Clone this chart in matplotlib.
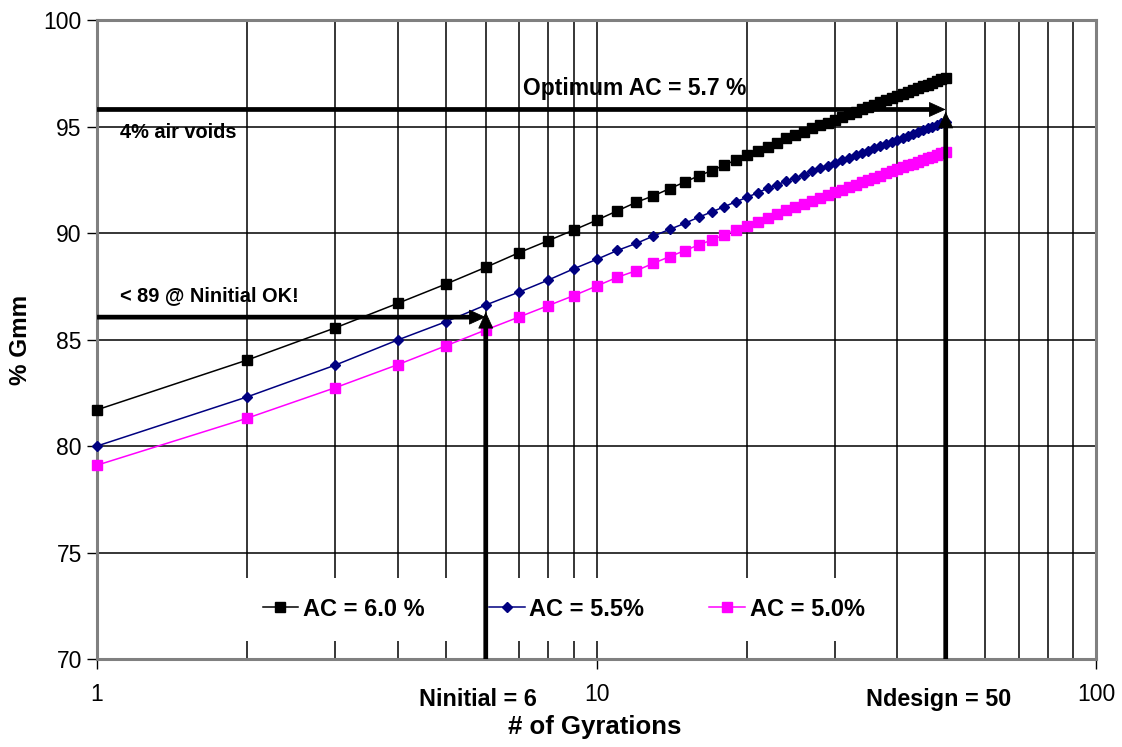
import matplotlib
matplotlib.use("Agg")
import matplotlib.pyplot as plt
from matplotlib.ticker import FixedLocator, FixedFormatter, NullFormatter

plt.rcParams['font.family'] = ['Liberation Sans', 'DejaVu Sans']

# Gyratory compaction data (% Gmm vs. number of gyrations)
gyrations = list(range(1, 51))

ac_60 = [81.70, 84.04, 85.55, 86.70, 87.61, 88.39, 89.08, 89.64, 90.14, 90.60,
         91.04, 91.44, 91.75, 92.08, 92.39, 92.68, 92.93, 93.18, 93.43, 93.66,
         93.85, 94.05, 94.24, 94.45, 94.61, 94.76, 94.91, 95.05, 95.18, 95.32,
         95.44, 95.57, 95.69, 95.80, 95.91, 96.02, 96.13, 96.23, 96.33, 96.43,
         96.53, 96.62, 96.71, 96.80, 96.89, 96.97, 97.06, 97.14, 97.22, 97.30]

ac_55 = [80.00, 82.31, 83.80, 84.98, 85.84, 86.62, 87.23, 87.79, 88.32, 88.76,
         89.18, 89.51, 89.86, 90.17, 90.45, 90.74, 90.99, 91.23, 91.47, 91.67,
         91.89, 92.10, 92.27, 92.44, 92.60, 92.74, 92.89, 93.03, 93.16, 93.29,
         93.41, 93.53, 93.65, 93.76, 93.87, 93.98, 94.09, 94.19, 94.29, 94.38,
         94.48, 94.57, 94.66, 94.74, 94.83, 94.91, 94.99, 95.07, 95.15, 95.23]

ac_50 = [79.10, 81.31, 82.74, 83.82, 84.71, 85.45, 86.06, 86.59, 87.06, 87.51,
         87.92, 88.23, 88.58, 88.89, 89.17, 89.44, 89.67, 89.91, 90.14, 90.33,
         90.53, 90.72, 90.89, 91.08, 91.23, 91.38, 91.52, 91.66, 91.79, 91.91,
         92.04, 92.15, 92.27, 92.38, 92.49, 92.59, 92.70, 92.80, 92.89, 92.99,
         93.08, 93.17, 93.26, 93.34, 93.43, 93.51, 93.59, 93.67, 93.75, 93.82]

series_labels = ['AC = 6.0 %', 'AC = 5.5%', 'AC = 5.0%']

x_ticks = [1, 10, 100]
x_tick_labels = ['1', '10', '100']
y_ticks = [70, 75, 80, 85, 90, 95, 100]

n_initial = 6
n_design = 50
level_design = 95.8      # 4 % air voids reference line
tip_design = 95.7
level_initial = 86.05    # Ninitial check line
tip_initial = 86.3

fig = plt.figure(figsize=(11.22, 7.47), dpi=100)
ax = fig.add_axes([0.0865, 0.1178, 0.8904, 0.8554])
ax.set_xscale('log')
ax.set_xlim(1, 100)
ax.set_ylim(70, 100)

# grid
ax.set_axisbelow(True)
ax.grid(which='both', axis='x', color='black', lw=1.1)
ax.grid(which='major', axis='y', color='black', lw=1.1)

# series
ax.plot(gyrations, ac_60, color='black', lw=1.1, marker='s', ms=6.5,
        label=series_labels[0], zorder=3, clip_on=False)
ax.plot(gyrations, ac_55, color='#000080', lw=1.1, marker='D', ms=5.0,
        label=series_labels[1], zorder=3, clip_on=False)
ax.plot(gyrations, ac_50, color='#FF00FF', lw=1.1, marker='s', ms=6.5,
        label=series_labels[2], zorder=3, clip_on=False)

# axes styling
for sp in ax.spines.values():
    sp.set_color('#808080')
    sp.set_linewidth(2.2)

ax.xaxis.set_major_locator(FixedLocator(x_ticks))
ax.xaxis.set_major_formatter(FixedFormatter(x_tick_labels))
ax.xaxis.set_minor_formatter(NullFormatter())
ax.set_yticks(y_ticks)
ax.tick_params(axis='both', which='major', direction='out', length=7,
               width=1, color='black', labelsize=16.5)
ax.tick_params(axis='x', which='major', pad=10)
ax.tick_params(axis='y', which='major', pad=4)
ax.tick_params(axis='x', which='minor', length=0)

ax.set_xlabel('# of Gyrations', fontsize=18.5, fontweight='bold', va='center')
ax.xaxis.set_label_coords(0.498, -0.106)
ax.set_ylabel('% Gmm', fontsize=17.5, fontweight='bold', va='center')
ax.yaxis.set_label_coords(-0.077, 0.5)

# legend
leg = ax.legend(loc='center', bbox_to_anchor=(0.467, 0.078), ncol=3,
                frameon=True, fancybox=False, edgecolor='none',
                facecolor='white', framealpha=1,
                prop={'weight': 'bold', 'size': 17},
                handlelength=1.5, handletextpad=0.2, columnspacing=2.75,
                borderpad=0.85)
leg.set_zorder(5)


def draw_arrow(start, tip, direction):
    """Thick shaft plus a sharp filled head ending at `tip`."""
    ax.annotate('', xy=tip, xytext=start,
                arrowprops=dict(arrowstyle='-', lw=3.4, color='black',
                                shrinkA=0, shrinkB=9, capstyle='butt'),
                zorder=6, annotation_clip=False)
    offset = (-11, 0) if direction == 'right' else (0, -11)
    ax.annotate('', xy=tip, xytext=offset, textcoords='offset points',
                arrowprops=dict(arrowstyle='-|>,head_length=1.1,head_width=0.5',
                                mutation_scale=10, lw=0.6, color='black',
                                shrinkA=0, shrinkB=0),
                zorder=6, annotation_clip=False)


draw_arrow((1.0, level_design), (n_design, level_design), 'right')
draw_arrow((n_design, 70), (n_design, tip_design), 'up')
draw_arrow((1.0, level_initial), (n_initial, level_initial), 'right')
draw_arrow((n_initial, 70), (n_initial, tip_initial), 'up')

# annotation text
ax.text(7.14, 96.8, 'Optimum AC = 5.7 %', fontsize=16.5, fontweight='bold',
        ha='left', va='center', zorder=8)
ax.text(1.112, 94.74, '4% air voids', fontsize=14.4, fontweight='bold',
        ha='left', va='center', zorder=8)
ax.text(1.112, 87.04, '< 89 @ Ninitial OK!', fontsize=14.4, fontweight='bold',
        ha='left', va='center', zorder=8)

xt = ax.get_xaxis_transform()
ax.text(5.8, -0.064, 'Ninitial = 6', transform=xt, fontsize=16.8,
        fontweight='bold', ha='center', va='center')
ax.text(48.5, -0.064, 'Ndesign = 50', transform=xt, fontsize=16.8,
        fontweight='bold', ha='center', va='center')

fig.savefig('out.png', dpi=100)
